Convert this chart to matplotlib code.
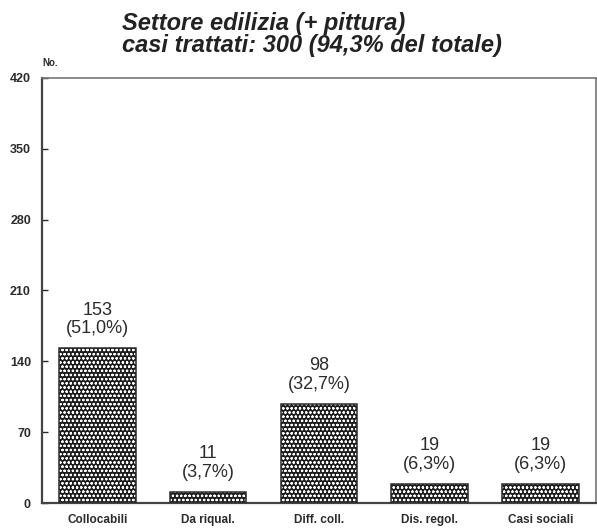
import matplotlib
matplotlib.use("Agg")
import matplotlib.pyplot as plt

categories = ["Collocabili", "Da riqual.", "Diff. coll.", "Dis. regol.", "Casi sociali"]
counts = [153, 11, 98, 19, 19]
percents = ["51,0%", "3,7%", "32,7%", "6,3%", "6,3%"]
yticks = [0, 70, 140, 210, 280, 350, 420]

title_lines = "Settore edilizia (+ pittura)\ncasi trattati: 300 (94,3% del totale)"

plt.rcParams["font.family"] = ["Liberation Sans Narrow", "Liberation Sans", "DejaVu Sans"]
plt.rcParams["hatch.linewidth"] = 0.55

fig = plt.figure(figsize=(5.97, 5.30), dpi=100)
ax = fig.add_axes([0.0704, 0.0509, 0.9276, 0.8021])

x = list(range(len(categories)))
ink = "#2b2b2b"

# patterned bars: dark fill with white dot hatch, then a dark outline
ax.bar(x, counts, width=0.69, color="#1e1e1e", edgecolor="white",
       hatch="oooo", linewidth=0, zorder=2)
ax.bar(x, counts, width=0.69, fill=False, edgecolor=ink, linewidth=1.1, zorder=3)

for xi, c, p in zip(x, counts, percents):
    ax.annotate(f"{c}\n({p})", (xi, c), xytext=(0, 8), textcoords="offset points",
                ha="center", va="bottom", fontsize=13, color=ink, linespacing=1.1)

ax.set_xlim(-0.5, len(categories) - 0.5)
ax.set_ylim(0, 420)
ax.set_yticks(yticks)
ax.set_yticklabels([str(t) for t in yticks], fontsize=9, fontweight="bold", color=ink)
ax.set_xticks(x)
ax.set_xticklabels(categories, fontsize=8.5, fontweight="bold", color=ink)
ax.tick_params(axis="y", direction="in", length=4, width=1, color=ink, pad=8)
ax.tick_params(axis="x", length=0, pad=8)

for side in ("left", "bottom"):
    ax.spines[side].set_linewidth(1.6)
    ax.spines[side].set_color("#444444")
for side in ("top", "right"):
    ax.spines[side].set_linewidth(1.2)
    ax.spines[side].set_color("#777777")

fig.text(0.0705, 0.872, "No.", fontsize=7, fontweight="bold", color=ink, ha="left", va="bottom")

fig.text(0.205, 0.978, title_lines, fontsize=17, fontweight="bold", fontstyle="italic",
         color="#222222", ha="left", va="top", linespacing=0.98,
         family=["Liberation Sans", "DejaVu Sans"])

fig.savefig("out.png", dpi=100, facecolor="white")
